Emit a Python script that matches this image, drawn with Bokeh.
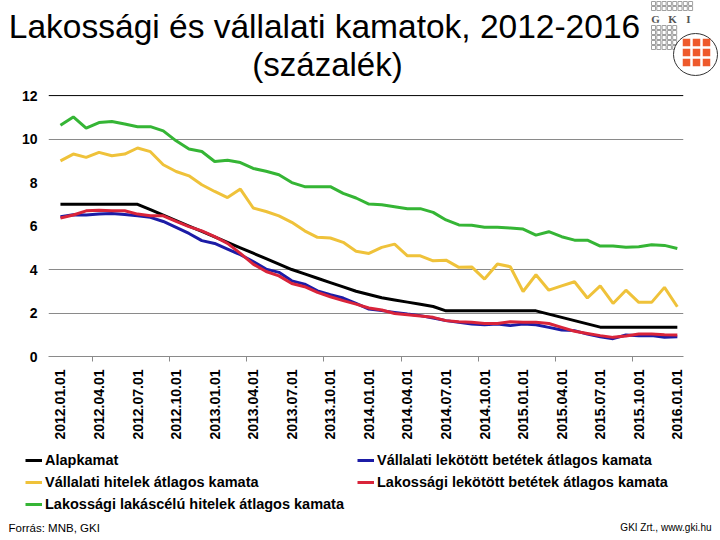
import numpy as np
from bokeh.plotting import figure
from bokeh.layouts import column
from bokeh.models import (Range1d, FixedTicker, Span, Label, Legend, LegendItem,
                          ColumnDataSource)
from bokeh.embed import file_html
from bokeh.resources import INLINE

# ---------------- data ----------------
tick_labels = ["2012.01.01", "2012.04.01", "2012.07.01", "2012.10.01",
               "2013.01.01", "2013.04.01", "2013.07.01", "2013.10.01",
               "2014.01.01", "2014.04.01", "2014.07.01", "2014.10.01",
               "2015.01.01", "2015.04.01", "2015.07.01", "2015.10.01",
               "2016.01.01"]

alapkamat = [7.0, 7.0, 7.0, 7.0, 7.0, 7.0, 7.0, 6.75, 6.5, 6.25, 6.0, 5.75,
             5.5, 5.25, 5.0, 4.75, 4.5, 4.25, 4.0, 3.8, 3.6, 3.4, 3.2, 3.0,
             2.85, 2.7, 2.6, 2.5, 2.4, 2.3, 2.1, 2.1, 2.1, 2.1, 2.1, 2.1,
             2.1, 2.1, 1.95, 1.8, 1.65, 1.5, 1.35, 1.35, 1.35, 1.35, 1.35, 1.35,
             1.35]

vallalati_hitel = [9.00, 9.31, 9.16, 9.39, 9.23, 9.31, 9.59, 9.42, 8.82, 8.51,
                   8.31, 7.90, 7.59, 7.31, 7.70, 6.83, 6.67, 6.47, 6.17, 5.78,
                   5.48, 5.45, 5.25, 4.84, 4.74, 5.02, 5.17, 4.63, 4.63, 4.40,
                   4.43, 4.10, 4.12, 3.56, 4.25, 4.13, 2.99, 3.76, 3.05, 3.25,
                   3.44, 2.69, 3.25, 2.44, 3.05, 2.49, 2.49, 3.18, 2.29]

lakossagi_lakas = [10.64, 11.02, 10.50, 10.76, 10.81, 10.69, 10.57, 10.57, 10.38,
                   9.92, 9.54, 9.43, 8.97, 9.03, 8.92, 8.65, 8.52, 8.36, 8.00,
                   7.81, 7.81, 7.81, 7.50, 7.29, 7.01, 6.98, 6.89, 6.80, 6.80,
                   6.63, 6.28, 6.05, 6.04, 5.94, 5.94, 5.91, 5.86, 5.58, 5.74,
                   5.51, 5.35, 5.35, 5.08, 5.08, 5.02, 5.05, 5.14, 5.11, 4.97]

vallalati_betet = [6.43, 6.52, 6.51, 6.55, 6.58, 6.53, 6.47, 6.40, 6.21, 5.94,
                   5.66, 5.33, 5.20, 4.94, 4.68, 4.37, 4.02, 3.87, 3.48, 3.33,
                   3.02, 2.84, 2.69, 2.44, 2.18, 2.11, 2.03, 1.95, 1.88, 1.77,
                   1.65, 1.57, 1.49, 1.46, 1.49, 1.42, 1.49, 1.46, 1.34, 1.22,
                   1.19, 1.03, 0.91, 0.82, 0.99, 0.96, 0.96, 0.88, 0.91]

lakossagi_betet = [6.37, 6.51, 6.70, 6.73, 6.70, 6.70, 6.55, 6.47, 6.47, 6.21,
                   5.97, 5.78, 5.51, 5.20, 4.74, 4.25, 3.91, 3.71, 3.36, 3.21,
                   2.95, 2.75, 2.57, 2.41, 2.23, 2.14, 1.98, 1.92, 1.86, 1.80,
                   1.65, 1.60, 1.57, 1.52, 1.52, 1.60, 1.57, 1.57, 1.52, 1.34,
                   1.16, 1.06, 0.96, 0.88, 0.94, 1.03, 1.03, 1.00, 0.99]

series_names = ["Alapkamat",
                "Vállalati hitelek átlagos kamata",
                "Lakossági lakáscélú hitelek átlagos kamata",
                "Vállalati lekötött betétek átlagos kamata",
                "Lakossági lekötött betétek átlagos kamata"]
series_colors = ["#000000", "#efc23a", "#35b535", "#1c1ca6", "#d9243a"]

title_text = "Lakossági és vállalati kamatok, 2012-2016"
subtitle_text = "(százalék)"
source_text = "Forrás: MNB, GKI"
credit_text = "GKI Zrt., www.gki.hu"

month_idx = list(range(len(alapkamat)))
label_idx = [3 * k for k in range(len(tick_labels))]
between_idx = [6 * k + 2.5 for k in range(8)]

FONT = "Liberation Sans"
W = 720

def blank(height, y0, y1):
    f = figure(width=W, height=height, output_backend="svg", toolbar_location=None,
               x_range=Range1d(0, W), y_range=Range1d(y1, y0),
               x_axis_location=None, y_axis_location=None, min_border=0,
               frame_align=False)
    f.grid.visible = False
    f.outline_line_color = None
    f.background_fill_color = "white"
    f.border_fill_color = "white"
    return f

# ---------------- header ----------------
ph = blank(88, 0, 88)
ph.add_layout(Label(x=324, y=26, text=title_text, text_font=FONT,
                    text_font_size="33.5px", text_align="center",
                    text_baseline="alphabetic", text_color="black"))
ph.add_layout(Label(x=327, y=64, text=subtitle_text, text_font=FONT,
                    text_font_size="33px", text_align="center",
                    text_baseline="alphabetic", text_color="black"))
# GKI logo (decoration)
gx, gy = [], []
for row in range(2):
    for col in range(8):
        gx.append(653 + col * 5.3); gy.append(3 + row * 5)
for row in range(5):
    for col in range(5):
        gx.append(653 + col * 5.3); gy.append(27 + row * 5)
ph.rect(x=gx, y=gy, width=4, height=4, fill_alpha=0, line_color="#a0a0a0", line_width=1)
ph.text(x=[655, 672, 688], y=[18, 18, 18], text=["G", "K", "I"],
        text_font=FONT, text_font_style="bold", text_font_size="11px",
        text_align="center", text_baseline="alphabetic", text_color="#555555")
ph.ellipse(x=[695], y=[54], width=44, height=42, fill_color="white",
           line_color="#333333", line_width=1)
rx, ry = [], []
for row in range(3):
    for col in range(3):
        rx.append(686 + col * 10); ry.append(42 + row * 10)
ph.rect(x=rx, y=ry, width=7.5, height=7.5, fill_color="#ee5a2c", line_color=None)

# ---------------- main chart ----------------
p = figure(width=W, height=362, output_backend="svg", toolbar_location=None,
           x_range=Range1d(-0.93, 48.48), y_range=Range1d(0, 12.05),
           min_border_left=48, min_border_right=37, min_border_top=6,
           min_border_bottom=94, frame_align=False)
p.outline_line_color = None
p.background_fill_color = "white"
p.border_fill_color = "white"

src = ColumnDataSource(dict(x=month_idx, a=alapkamat, vh=vallalati_hitel,
                            ll=lakossagi_lakas, vb=vallalati_betet, lb=lakossagi_betet))
cols = ["a", "vh", "ll", "vb", "lb"]
for c, col in zip(cols, series_colors):
    p.line("x", c, source=src, line_color=col, line_width=3)

p.xgrid.visible = False
p.ygrid.ticker = FixedTicker(ticks=[2, 4, 10])
p.ygrid.grid_line_color = "#8a8a8a"
p.ygrid.grid_line_width = 1
p.add_layout(Span(location=12, dimension="width", line_color="black", line_width=1))

p.yaxis.ticker = FixedTicker(ticks=[0, 2, 4, 6, 8, 10, 12])
p.yaxis.axis_line_color = None
p.yaxis.major_tick_line_color = None
p.yaxis.minor_tick_line_color = None
p.yaxis.major_tick_out = 0
p.yaxis.major_tick_in = 0
p.yaxis.major_label_standoff = 11
p.yaxis.major_label_text_font = FONT
p.yaxis.major_label_text_font_style = "bold"
p.yaxis.major_label_text_font_size = "14px"
p.yaxis.major_label_text_color = "black"

p.xaxis.ticker = FixedTicker(ticks=label_idx, minor_ticks=between_idx)
p.xaxis.major_label_overrides = {i: t for i, t in zip(label_idx, tick_labels)}
p.xaxis.major_label_orientation = np.pi / 2
p.xaxis.axis_line_color = "#8a8a8a"
p.xaxis.major_tick_line_color = None
p.xaxis.major_tick_out = 0
p.xaxis.major_tick_in = 0
p.xaxis.minor_tick_line_color = "#8a8a8a"
p.xaxis.minor_tick_out = 5
p.xaxis.minor_tick_in = 0
p.xaxis.major_label_standoff = 8
p.xaxis.major_label_text_font = FONT
p.xaxis.major_label_text_font_style = "bold"
p.xaxis.major_label_text_font_size = "14px"
p.xaxis.major_label_text_color = "black"

# ---------------- footer: legend + sources ----------------
pf = blank(90, 450, 540)
# legend proxies: a single point outside the visible range, styled like the series
leg_src = ColumnDataSource(dict(x=[-100.0], y=[-100.0]))
leg_r = [pf.line("x", "y", source=leg_src, line_color=col, line_width=3)
         for col in series_colors]
legend = Legend(items=[LegendItem(label=series_names[k], renderers=[leg_r[k]])
                       for k in range(5)],
                location=(25, 540 - 514), orientation="vertical", nrows=3,
                glyph_width=17, glyph_height=20, label_height=20,
                spacing=2, label_standoff=3, padding=0, margin=0,
                border_line_color=None, background_fill_alpha=0,
                label_width=310,
                label_text_font=FONT,
                label_text_font_style="bold", label_text_font_size="14.5px",
                label_text_color="black")
pf.add_layout(legend, "center")
pf.add_layout(Label(x=8, y=527, text=source_text, text_font=FONT, text_font_size="11.5px",
                    text_align="left", text_baseline="alphabetic", text_color="black"))
pf.add_layout(Label(x=711, y=527, text=credit_text, text_font=FONT, text_font_size="10px",
                    text_align="right", text_baseline="alphabetic", text_color="black"))

layout = column(ph, p, pf, spacing=0)
open("out.html", "w").write(file_html(layout, INLINE))
